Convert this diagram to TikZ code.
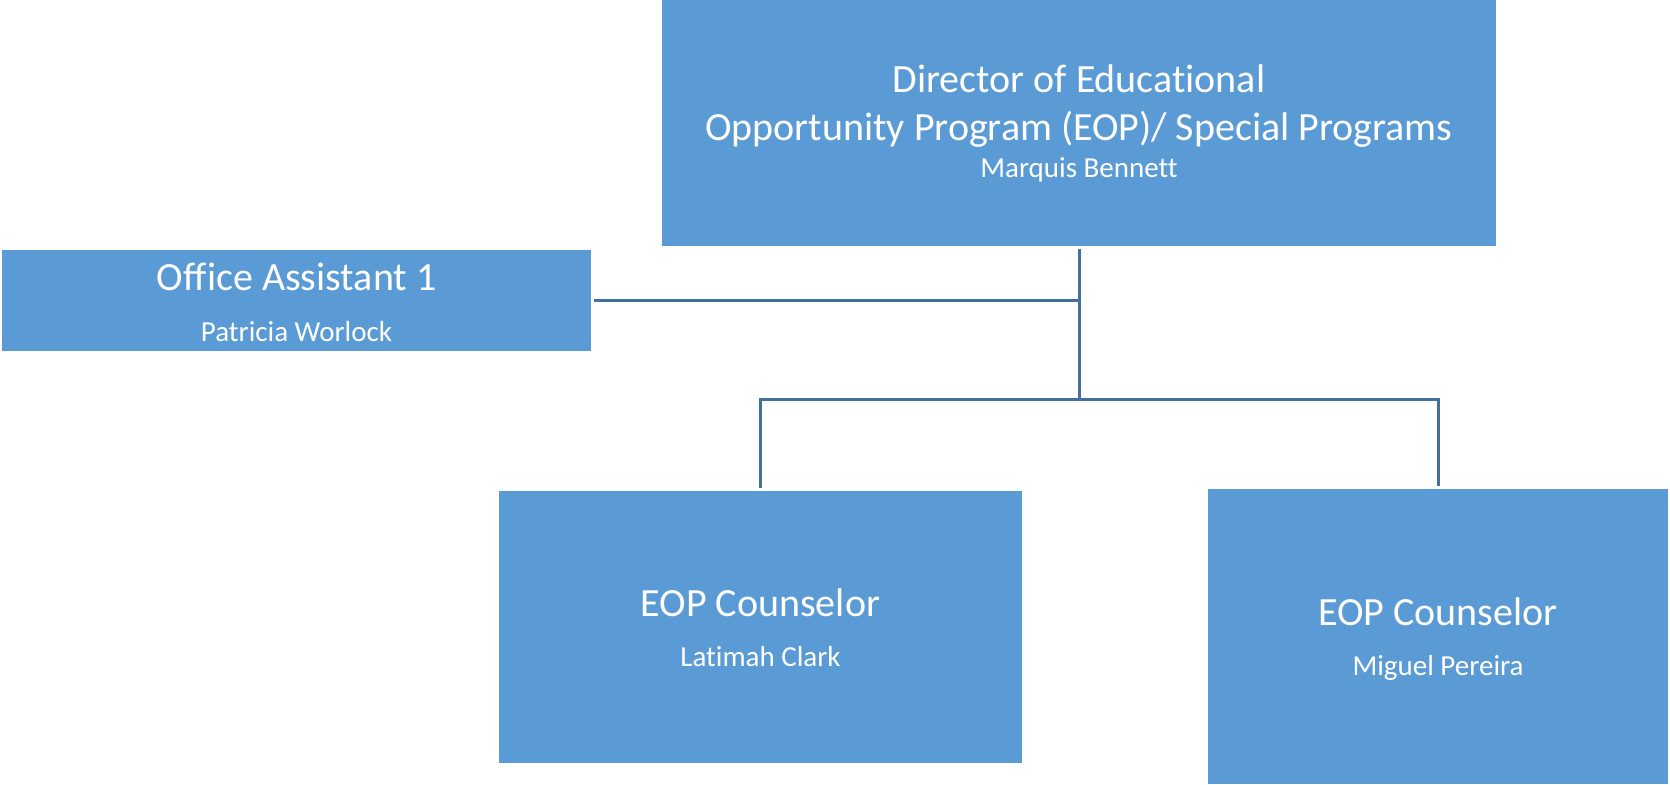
\documentclass[tikz,border=0pt]{standalone}
\usepackage{fontspec}
\setmainfont[Ligatures=NoCommon]{Carlito}
\usetikzlibrary{positioning}
\definecolor{boxblue}{HTML}{5B9BD5}
\definecolor{linkblue}{HTML}{41719C}
\tikzset{
  org box/.style 2 args={
    fill=boxblue,
    draw=none,
    inner sep=0pt,
    minimum width={#1*0.5pt},
    minimum height={#2*0.5pt},
  },
  title text/.style={
    text=white,
    inner sep=0pt,
    align=center,
    font=\fontsize{20}{24}\selectfont,
  },
  name text/.style={
    text=white,
    inner sep=0pt,
    font=\fontsize{14.5}{17}\selectfont,
  },
  link/.style={
    draw=linkblue,
    line width=1.5pt,
  }
}
\begin{document}
\begin{tikzpicture}[x=0.5pt, y=-0.5pt]
    \useasboundingbox (0,0) rectangle (1670,784);

    \node [org box={834}{246}] (dir) at (1079,123) {};
    \node [org box={589}{101}] (oa) at (296.5,300.5) {};
    \node [org box={523}{272}] (cl) at (760.5,627) {};
    \node [org box={460}{295}] (cr) at (1438,636.5) {};

    \node [title text] (dir title) at ([yshift=8.5pt]dir.center) {Director of Educational\\Opportunity Program (EOP)/ Special Programs};
    \node [name text] (dir name) at ([yshift=-23.5pt]dir.center) {Marquis Bennett};
    \node [title text] (oa title) at ([yshift=12pt]oa.center) {Office Assistant 1};
    \node [name text] (oa name) at ([yshift=-15.5pt]oa.center) {Patricia Worlock};
    \node [title text] (cl title) at ([yshift=12pt]cl.center) {EOP Counselor};
    \node [name text] (cl name) at ([yshift=-15pt]cl.center) {Latimah Clark};
    \node [title text] (cr title) at ([yshift=12.5pt]cr.center) {EOP Counselor};
    \node [name text] (cr name) at ([yshift=-15.5pt]cr.center) {Miguel Pereira};

    \coordinate (hub) at ([yshift=-76.5pt]dir.south);
    \draw [link] ([yshift=-1.5pt]dir.south) -- (hub);
    \draw [link] ([xshift=1.5pt]oa.east) -- (oa.east -| dir.south);
    \draw [link] ([yshift=1.5pt]cl.north) |- (hub) -| ([yshift=1.5pt]cr.north);
\end{tikzpicture}
\end{document}
